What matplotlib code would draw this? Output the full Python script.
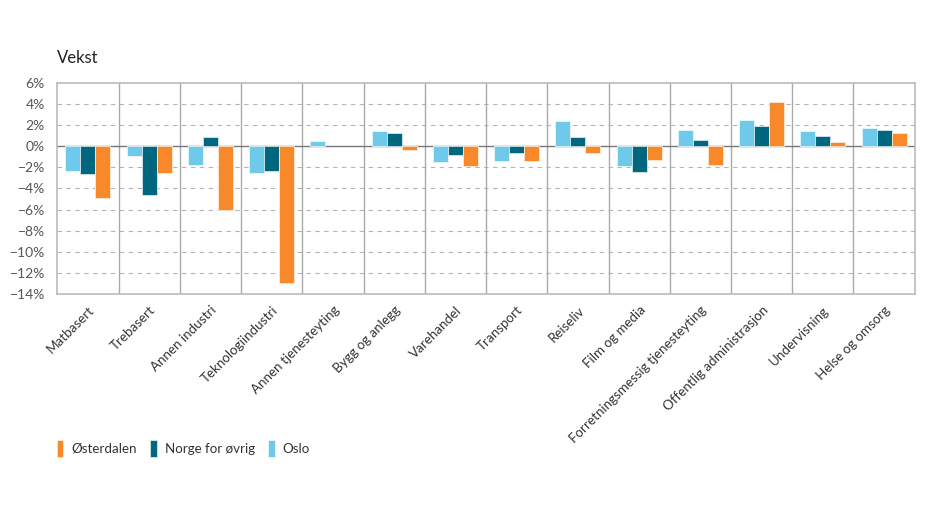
import matplotlib
matplotlib.use("Agg")
import matplotlib.pyplot as plt
import numpy as np

plt.rcParams['font.family'] = ['Lato', 'DejaVu Sans']

# categories and growth values (%)
categories = ["Matbasert", "Trebasert", "Annen industri", "Teknologiindustri",
              "Annen tjenesteyting", "Bygg og anlegg", "Varehandel", "Transport",
              "Reiseliv", "Film og media", "Forretningsmessig tjenesteyting",
              "Offentlig administrasjon", "Undervisning", "Helse og omsorg"]
oslo = [-2.37, -0.95, -1.77, -2.5, 0.5, 1.48, -1.48, -1.36, 2.37, -1.9, 1.51, 2.52, 1.39, 1.7]
norge = [-2.6, -4.6, 0.82, -2.3, 0.0, 1.2, -0.88, -0.6, 0.85, -2.43, 0.57, 1.9, 0.98, 1.55]
osterdalen = [-4.86, -2.5, -6.0, -12.9, 0.0, -0.38, -1.86, -1.39, -0.6, -1.3, -1.77, 4.13, 0.35, 1.2]

c_oslo = "#6fc9ea"
c_norge = "#00677f"
c_ost = "#f7892b"
gray = "#555555"

fig = plt.figure(figsize=(9.28, 5.22), dpi=100)
ax = fig.add_axes([0.0618, 0.4362, 0.9239, 0.4054])

x = np.arange(len(categories))
w = 0.245


def draw(offset, vals, color, edge, label):
    lw = [0.6 if v != 0 else 0 for v in vals]
    ax.bar(x + offset, vals, w, color=color, edgecolor=edge, linewidth=lw, label=label, zorder=3)


draw(-w, oslo, c_oslo, "#e8f6fb", "Oslo")
draw(0, norge, c_norge, "#d6e8ec", "Norge for øvrig")
draw(w, osterdalen, c_ost, "#fde9d6", "Østerdalen")

ax.set_xlim(-0.5, len(categories) - 0.5)
ax.set_ylim(-14, 6)
yt = np.arange(-14, 7, 2)
ax.set_yticks(yt)
ax.set_yticklabels([f"{v}%".replace("-", "\u2212") for v in yt], color=gray, fontsize=10)
ax.set_xticks(x)
ax.set_xticklabels(categories, rotation=45, ha="right", rotation_mode="anchor", fontsize=9.6, color="#333333")
ax.tick_params(axis="x", length=0, pad=7)
ax.tick_params(axis="y", length=0, pad=9)

# dashed horizontal grid
for v in yt:
    if v not in (-14, 0, 6):
        ax.axhline(v, color="#b5b5b5", linestyle=(0, (4, 4)), linewidth=0.8, zorder=1)
ax.axhline(0, color="#777777", linewidth=1.0, zorder=2)
# category separators
for i in range(1, len(categories)):
    ax.axvline(i - 0.5, color="#aaaaaa", linewidth=1.0, zorder=1)
for s in ax.spines.values():
    s.set_color("#bbbbbb")
    s.set_linewidth(1.2)

fig.text(0.0618, 0.879, "Vekst", fontsize=12, color="#222222", ha="left")

handles, labels = ax.get_legend_handles_labels()
order = [2, 1, 0]
leg = fig.legend([handles[i] for i in order], [labels[i] for i in order],
                 loc="center left", bbox_to_anchor=(0.048, 0.141), ncol=3, frameon=False,
                 handlelength=0.5, handleheight=1.6, handletextpad=0.6, columnspacing=1.0,
                 fontsize=9.6)
for t in leg.get_texts():
    t.set_color("#333333")

fig.savefig("out.png", dpi=100)
